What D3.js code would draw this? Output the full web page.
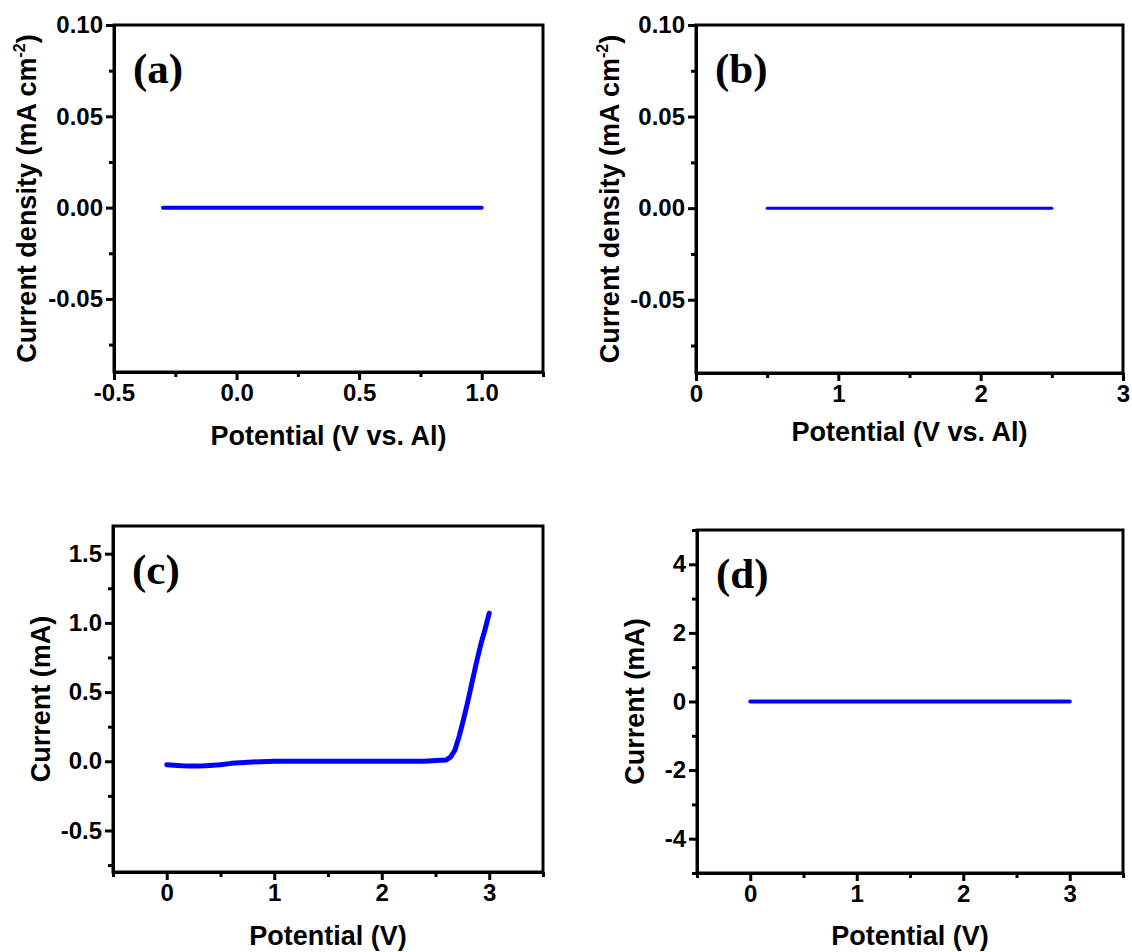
<!DOCTYPE html>
<html>
<head>
<meta charset="utf-8">
<script src="https://cdn.jsdelivr.net/npm/d3@7"></script>
<style>
  body { margin: 0; background: #fff; }
  svg { display: block; }
  .tick text { font-family: "Liberation Sans", Arial, sans-serif; font-weight: bold; }
</style>
</head>
<body>
<svg id="chart" width="1132" height="952"></svg>
<script>
// data voor de vier panelen
// (a) LSV, Potential (V vs. Al) tegen current density
var aPotential = [-0.3, 0.0, 0.25, 0.5, 0.75, 1.0];
var aDensity   = [0, 0, 0, 0, 0, 0];

// (b) LSV, Potential (V vs. Al)
var bPotential = [0.5, 1.0, 1.5, 2.0, 2.5];
var bDensity   = [0, 0, 0, 0, 0];

// (c) Potential (V) tegen Current (mA)
var cPotential = [0, 0.1, 0.2, 0.3, 0.4, 0.5, 0.6, 0.8, 1.0, 1.5, 2.0, 2.4, 2.5, 2.6, 2.64, 2.68, 2.72, 2.76, 2.8, 2.84, 2.88, 2.92, 2.96, 3.0];
var cCurrent   = [-0.025, -0.03, -0.035, -0.035, -0.03, -0.025, -0.015, -0.005, 0, 0, 0, 0, 0.005, 0.01, 0.03, 0.08, 0.18, 0.3, 0.43, 0.57, 0.71, 0.84, 0.95, 1.07];

// (d) Potential (V) tegen Current (mA)
var dPotential = [0, 0.5, 1.0, 1.5, 2.0, 2.5, 3.0];
var dCurrent   = [0, 0, 0, 0, 0, 0, 0];

// tick waardes
var abYTicks = [-0.05, 0, 0.05, 0.10];
var abYMinor = [-0.075, -0.025, 0.025, 0.075];
var aXTicks = [-0.5, 0, 0.5, 1.0];
var aXMinor = [-0.25, 0.25, 0.75, 1.25];
var bXTicks = [0, 1, 2, 3];
var bXMinor = [0.5, 1.5, 2.5];
var cdXTicks = [0, 1, 2, 3];
var cdXMinor = [-0.5, 0.5, 1.5, 2.5, 3.5];
var cYTicks = [-0.5, 0, 0.5, 1.0, 1.5];
var cYMinor = [-0.75, -0.25, 0.25, 0.75, 1.25];
var dYTicks = [-4, -2, 0, 2, 4];
var dYMinor = [-5, -3, -1, 1, 3, 5];

var svg = d3.select('#chart');

var sans = '"Liberation Sans", Arial, sans-serif';
var serif = '"Liberation Serif", "Times New Roman", serif';

// paneel tekenen
function drawPanel(p) {
  var x = d3.scaleLinear().domain(p.xDomain).range([p.left, p.right]);
  var y = d3.scaleLinear().domain(p.yDomain).range([p.bottom, p.top]);

  var g = svg.append('g');

  // minor ticks
  g.append('g')
    .attr('transform', 'translate(0,' + p.bottom + ')')
    .call(d3.axisBottom(x).tickValues(p.xMinor).tickSize(5).tickSizeOuter(0).tickFormat(''))
    .call(styleAxis);
  g.append('g')
    .attr('transform', 'translate(' + p.left + ',0)')
    .call(d3.axisLeft(y).tickValues(p.yMinor).tickSize(5).tickSizeOuter(0).tickFormat(''))
    .call(styleAxis);

  // major ticks
  g.append('g')
    .attr('transform', 'translate(0,' + p.bottom + ')')
    .call(d3.axisBottom(x).tickValues(p.xTicks).tickSize(8).tickPadding(4).tickSizeOuter(0).tickFormat(p.xFormat))
    .call(styleAxis);
  g.append('g')
    .attr('transform', 'translate(' + p.left + ',0)')
    .call(d3.axisLeft(y).tickValues(p.yTicks).tickSize(8).tickPadding(3).tickSizeOuter(0).tickFormat(p.yFormat))
    .call(styleAxis);

  // kader
  g.append('rect')
    .attr('x', p.left).attr('y', p.top)
    .attr('width', p.right - p.left).attr('height', p.bottom - p.top)
    .attr('fill', 'none').attr('stroke', '#000').attr('stroke-width', 3);

  // data lijn
  var line = d3.line()
    .x(function(d) { return x(d[0]); })
    .y(function(d) { return y(d[1]); });
  g.append('path')
    .datum(d3.zip(p.xs, p.ys))
    .attr('d', line)
    .attr('fill', 'none')
    .attr('stroke', '#0000ff')
    .attr('stroke-width', p.lineWidth)
    .attr('stroke-linecap', 'round')
    .attr('stroke-linejoin', 'round');

  // x as titel
  g.append('text')
    .attr('x', (p.left + p.right) / 2)
    .attr('y', p.xTitleY)
    .attr('text-anchor', 'middle')
    .style('font-family', sans).style('font-weight', 'bold').style('font-size', '27px')
    .text(p.xTitle);

  // y as titel (gedraaid)
  var yt = g.append('text')
    .attr('transform', 'translate(' + p.yTitleX + ',' + ((p.top + p.bottom) / 2) + ') rotate(-90)')
    .attr('dy', '0.35em')
    .attr('text-anchor', 'middle')
    .style('font-family', sans).style('font-weight', 'bold').style('font-size', '27px');
  if (p.ySup) {
    yt.append('tspan').text(p.yTitle);
    yt.append('tspan').attr('dy', -11).style('font-size', '16px').text(p.ySup);
    yt.append('tspan').attr('dy', 11).text(')');
  } else {
    yt.text(p.yTitle);
  }

  // paneel letter
  g.append('text')
    .attr('x', p.left + 19)
    .attr('y', p.top + 58)
    .style('font-family', serif).style('font-weight', 'bold').style('font-size', '43px')
    .text(p.label);
}

function styleAxis(sel) {
  sel.select('.domain').attr('stroke', '#000').attr('stroke-width', 3);
  sel.selectAll('.tick line').attr('stroke', '#000').attr('stroke-width', 3);
  sel.selectAll('.tick text').attr('fill', '#000').style('font-size', '24px');
}

function fmt(n) { return function(d) { return d.toFixed(n); }; }

drawPanel({
  label: '(a)', left: 114, right: 543, top: 25, bottom: 372,
  xDomain: [-0.5, 1.25], yDomain: [-0.09, 0.10],
  xTicks: aXTicks, xMinor: aXMinor, yTicks: abYTicks, yMinor: abYMinor,
  xFormat: fmt(1), yFormat: fmt(2),
  xs: aPotential, ys: aDensity, lineWidth: 4,
  xTitle: 'Potential (V vs. Al)', xTitleY: 445,
  yTitle: 'Current density (mA cm', ySup: '-2', yTitleX: 27
});

drawPanel({
  label: '(b)', left: 696, right: 1123, top: 25, bottom: 373,
  xDomain: [0, 3], yDomain: [-0.09, 0.10],
  xTicks: bXTicks, xMinor: bXMinor, yTicks: abYTicks, yMinor: abYMinor,
  xFormat: fmt(0), yFormat: fmt(2),
  xs: bPotential, ys: bDensity, lineWidth: 3,
  xTitle: 'Potential (V vs. Al)', xTitleY: 441,
  yTitle: 'Current density (mA cm', ySup: '-2', yTitleX: 610
});

drawPanel({
  label: '(c)', left: 113, right: 543, top: 526, bottom: 872,
  xDomain: [-0.5, 3.5], yDomain: [-0.8, 1.7],
  xTicks: cdXTicks, xMinor: cdXMinor, yTicks: cYTicks, yMinor: cYMinor,
  xFormat: fmt(0), yFormat: fmt(1),
  xs: cPotential, ys: cCurrent, lineWidth: 5,
  xTitle: 'Potential (V)', xTitleY: 945,
  yTitle: 'Current (mA)', yTitleX: 41
});

drawPanel({
  label: '(d)', left: 697, right: 1123, top: 530, bottom: 873,
  xDomain: [-0.5, 3.5], yDomain: [-5, 5],
  xTicks: cdXTicks, xMinor: cdXMinor, yTicks: dYTicks, yMinor: dYMinor,
  xFormat: fmt(0), yFormat: fmt(0),
  xs: dPotential, ys: dCurrent, lineWidth: 4,
  xTitle: 'Potential (V)', xTitleY: 945,
  yTitle: 'Current (mA)', yTitleX: 635
});
</script>
</body>
</html>
